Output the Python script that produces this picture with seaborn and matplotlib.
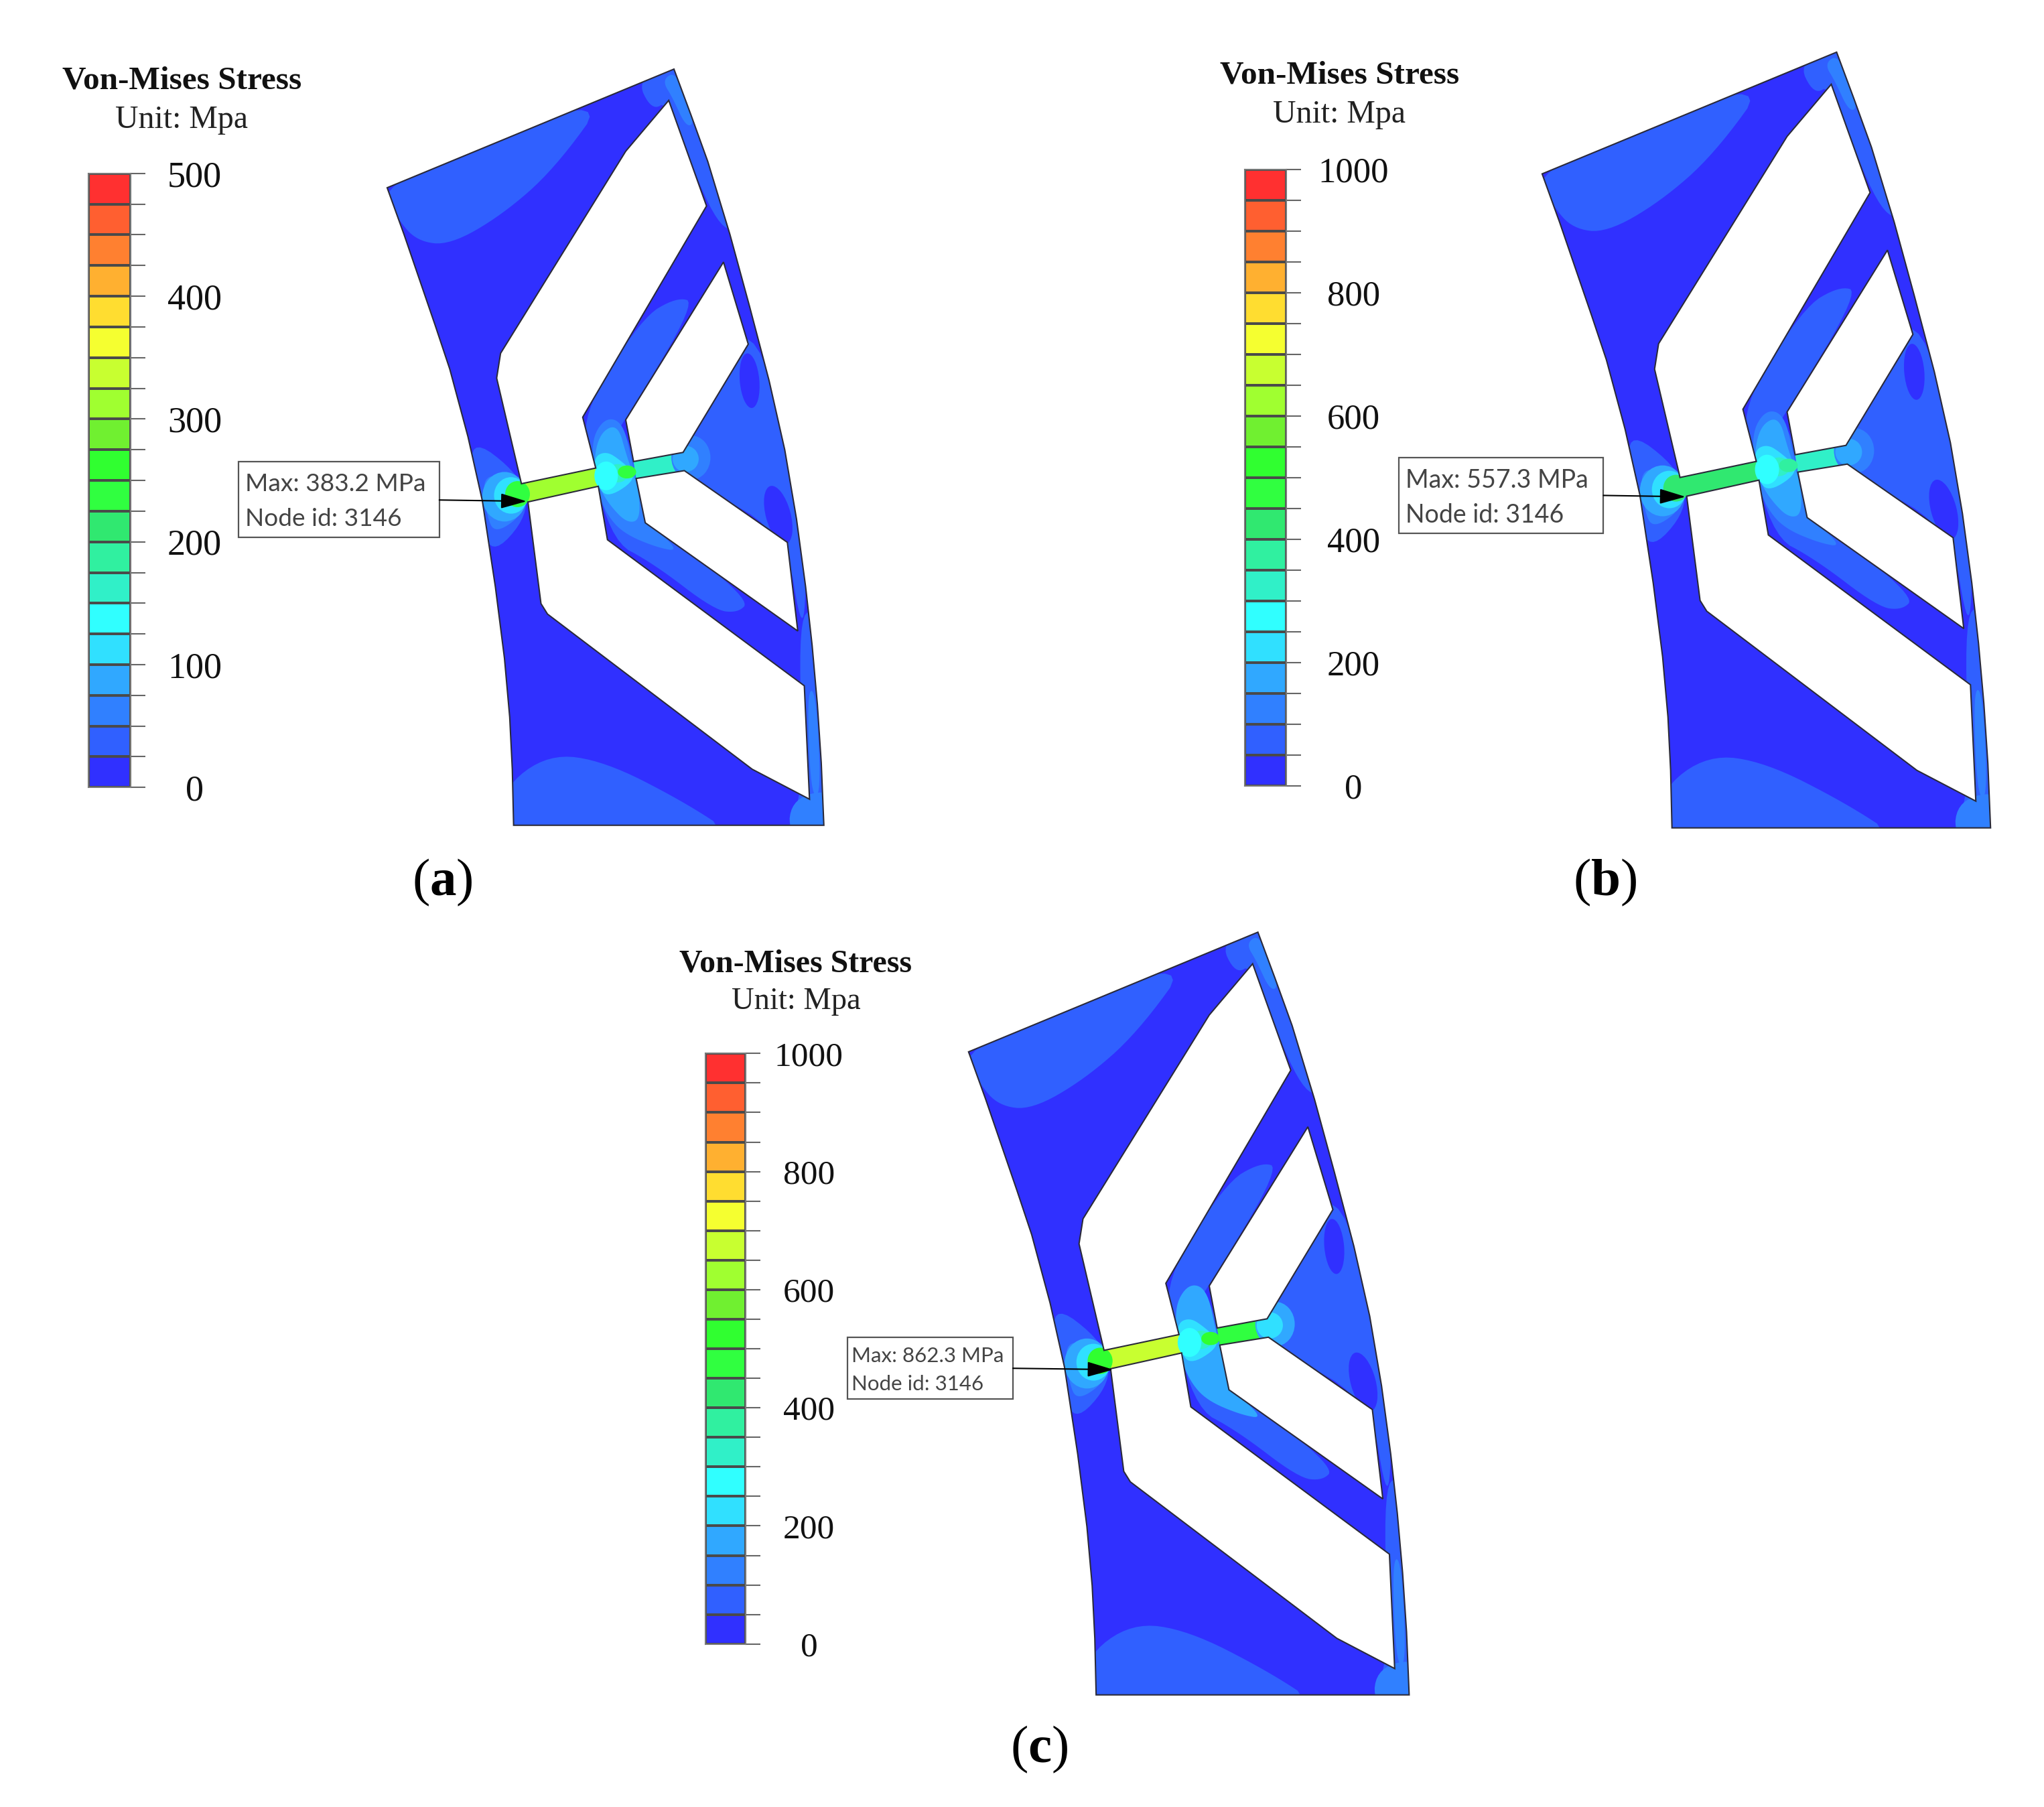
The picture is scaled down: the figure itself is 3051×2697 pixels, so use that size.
import seaborn as sns
import matplotlib.pyplot as plt
from matplotlib.colors import ListedColormap
from matplotlib.patches import Polygon, Ellipse, Rectangle
import numpy as np

sns.set_style("white")
plt.rcParams["font.family"] = ["Liberation Serif", "DejaVu Serif"]
plt.rcParams["mathtext.fontset"] = "custom"
plt.rcParams["mathtext.rm"] = "Liberation Serif"
plt.rcParams["mathtext.bf"] = "Liberation Serif:bold"

# legend bands, bottom to top
band_colors = ["#3030ff", "#3060ff", "#3080ff", "#30a8ff", "#30e0ff", "#30ffff", "#30f0c8",
               "#30f0a0", "#30e870", "#30ff40", "#30ff30", "#70f030", "#a0ff30", "#c8ff30",
               "#f5ff30", "#ffdd30", "#ffb030", "#ff8030", "#ff5f30", "#ff3030"]
levels_500 = [475, 450, 425, 400, 375, 350, 325, 300, 275, 250, 225, 200, 175, 150, 125, 100, 75, 50, 25, 0]
levels_1000 = [950, 900, 850, 800, 750, 700, 650, 600, 550, 500, 450, 400, 350, 300, 250, 200, 150, 100, 50, 0]
labels_500 = ["500", "400", "300", "200", "100", "0"]
labels_1000 = ["1000", "800", "600", "400", "200", "0"]

# rotor section outline in 1568 wide picture units
outer = [(297, 144), (517, 53), (530, 88), (543, 124), (560, 180), (575, 235), (590, 292), (602, 345),
         (611, 398), (618, 450), (623, 495), (627, 540), (630, 585), (632, 633), (394, 633),
         (393, 590), (391, 550), (387, 505), (380, 450), (370, 384), (359, 335), (345, 283),
         (334, 250), (322, 215), (310, 180)]
hole_top = [(513, 77), (542, 158), (447, 320), (457, 359), (400, 371), (381, 290), (384, 271), (480, 116)]
hole_upper = [(555, 201), (574, 264), (524, 347), (486, 354), (480, 322)]
hole_lower = [(525, 361), (604, 416), (612, 484), (495, 401), (488, 367)]
hole_bottom = [(405, 385), (459, 373), (466, 414), (617, 526), (621, 613), (577, 590), (420, 471), (415, 463)]
holes = [hole_top, hole_upper, hole_lower, hole_bottom]

# stress contour regions
region_shapes = [
    [(290, 140), (470, 68), (425, 130), (385, 165), (345, 188), (320, 185), (305, 168)],
    [(488, 60), (525, 45), (552, 125), (566, 182), (545, 165), (513, 77), (500, 85)],
    [(508, 62), (517, 55), (524, 70), (533, 95), (526, 97), (516, 75)],
    [(492, 244), (519, 228), (534, 232), (480, 322), (456, 356), (445, 320)],
    [(573, 232), (606, 345), (619, 430), (616, 492), (602, 405), (520, 368), (518, 340)],
    [(447, 319), (480, 321), (495, 399), (527, 421), (575, 461), (566, 470), (548, 468), (501, 432), (467, 414)],
    [(612, 470), (628, 470), (640, 640), (600, 640), (617, 610)],
    [(619, 530), (626, 530), (630, 610), (622, 610)],
    [(608, 612), (640, 605), (640, 640), (604, 640)],
    [(385, 605), (421, 578), (464, 584), (523, 614), (566, 642), (385, 642)],
    [(358, 333), (400, 365), (406, 395), (376, 428), (368, 390)],
    [(370, 362), (398, 370), (404, 392), (380, 410), (373, 395)],
    [(453, 339), (464, 320), (478, 324), (485, 355), (495, 399), (522, 423), (504, 420), (478, 409), (465, 394), (458, 375)],
    [(460, 332), (474, 325), (481, 351), (490, 375), (491, 399), (481, 401), (469, 389), (460, 375), (455, 356)],
    [(455, 351), (465, 346), (476, 353), (490, 366), (467, 382), (458, 373)],
]
region_bands_a = [1, 1, 2, 1, 1, 1, 1, 2, 2, 1, 1, 2, 2, 3, 4]
region_bands_b = [1, 1, 2, 1, 1, 1, 1, 2, 2, 1, 1, 2, 2, 3, 4]
region_bands_c = [1, 1, 2, 1, 1, 1, 1, 2, 2, 1, 1, 2, 3, 3, 4]

web_shapes = [
    [(400, 371), (457, 359), (461, 373), (405, 385)],
    [(486, 354), (524, 347), (526, 361), (488, 367)],
]
web_bands_a = [12, 6]
web_bands_b = [8, 6]
web_bands_c = [13, 9]

# centre x, centre y, width, height, angle
spot_shapes = [
    (575, 292, 15, 42, -5), (597, 395, 19, 46, -15),
    (530, 351, 30, 34, 0), (526, 352, 20, 20, 0),
    (387, 381, 34, 38, 0), (392, 380, 26, 28, 0), (397, 379, 19, 20, 0),
    (474, 363, 16, 14, 0), (465, 365, 18, 22, 0), (481, 362, 14, 10, 0),
]
spot_bands_a = [0, 0, 2, 3, 3, 4, 9, 6, 5, 9]
spot_bands_b = [0, 0, 2, 3, 3, 4, 8, 6, 5, 7]
spot_bands_c = [0, 0, 3, 4, 3, 4, 10, 6, 5, 10]

# panel text
max_texts = ["Max: 383.2 MPa", "Max: 557.3 MPa", "Max: 862.3 MPa"]
node_text = "Node id: 3146"
panel_names = ["a", "b", "c"]

W, H = 1568.0, 1386.0
fig = plt.figure(figsize=(30.51, 26.97), dpi=100)


def place(x0, y0, x1, y1):
    return fig.add_axes([x0 / W, 1 - y1 / H, (x1 - x0) / W, (y1 - y0) / H])


def soften(shape, rounds=3):
    # corner cutting, the contour edges in the reference are rounded
    pts = np.array(shape, dtype=float)
    for _ in range(rounds):
        nxt = np.roll(pts, -1, axis=0)
        pts = np.column_stack([0.75 * pts + 0.25 * nxt, 0.25 * pts + 0.75 * nxt]).reshape(-1, 2)
    return pts


def draw_section(x0, y0, x1, y1, region_bands, web_bands, spot_bands):
    ax = place(x0, y0, x1, y1)
    ax.set_xlim(297, 632)
    ax.set_ylim(633, 53)
    ax.axis("off")
    body = Polygon(outer, closed=True, fc=band_colors[0], ec="none")
    ax.add_patch(body)
    for shape, band in zip(region_shapes, region_bands):
        p = Polygon(soften(shape), closed=True, fc=band_colors[band], ec="none")
        ax.add_patch(p)
        p.set_clip_path(body)
    for shape, band in zip(web_shapes, web_bands):
        ax.add_patch(Polygon(shape, closed=True, fc=band_colors[band], ec="none"))
    for (cx, cy, w, h, a), band in zip(spot_shapes, spot_bands):
        p = Ellipse((cx, cy), w, h, angle=a, fc=band_colors[band], ec="none")
        ax.add_patch(p)
        p.set_clip_path(body)
    for hole in holes:
        ax.add_patch(Polygon(hole, closed=True, fc="white", ec="#2a2a3a", lw=1.5, clip_on=False))
    ax.add_patch(Polygon(outer, closed=True, fc="none", ec="#2a2a3a", lw=1.5, clip_on=False))


def draw_legend(x0, y0, x1, y1, levels, labels, top, tick_pad, size):
    ax = place(x0, y0, x1, y1)
    table = np.array(levels).reshape(-1, 1)
    sns.heatmap(table, ax=ax, cmap=ListedColormap(band_colors), vmin=0, vmax=top, cbar=False,
                linewidths=1.6, linecolor="#4a4a4a", xticklabels=False, yticklabels=False)
    tick_labels = [""] * 21
    for i, lab in enumerate(labels):
        tick_labels[i * 4] = lab
    ax.yaxis.tick_right()
    ax.set_yticks(range(21))
    ax.set_yticklabels(tick_labels, rotation=0, ha="center", fontsize=size)
    ax.tick_params(axis="y", length=16, width=1.5, color="#666666", pad=tick_pad, labelcolor="#111111")
    ax.set_ylim(20, 0)
    for s in ax.spines.values():
        s.set_visible(True)
        s.set_color("#777777")
        s.set_linewidth(1.5)


draw_section(297, 53, 632, 633, region_bands_a, web_bands_a, spot_bands_a)
draw_section(1183, 40, 1527, 635, region_bands_b, web_bands_b, spot_bands_b)
draw_section(743, 715, 1081, 1300, region_bands_c, web_bands_c, spot_bands_c)

draw_legend(68, 133, 100, 604, levels_500, labels_500, 500, 53, 39)
draw_legend(955, 130, 987, 603, levels_1000, labels_1000, 1000, 56, 38)
draw_legend(541, 808, 572, 1261, levels_1000, labels_1000, 1000, 52, 37)

# overlay for titles, call-outs and panel letters
top = fig.add_axes([0, 0, 1, 1], facecolor="none")
top.set_xlim(0, W)
top.set_ylim(H, 0)
top.axis("off")

for cx, y1, y2, s in [(139.5, 62, 92, 35.5), (1027.5, 58, 88, 35.5), (610.5, 739, 768, 34.5)]:
    top.text(cx, y1, "Von-Mises Stress", ha="center", va="center", fontweight="bold", fontsize=s, color="#111111")
    top.text(cx, y2, "Unit: Mpa", ha="center", va="center", fontsize=s - 1, color="#222222")

boxes = [(183, 354, 337, 412, 188, 26.7), (1073, 351, 1230, 409, 1078, 27), (650, 1026, 777, 1073, 653, 22.5)]
arrows = [(337, 383.5, 404, 384.5), (1230, 380, 1293, 381), (777, 1049.5, 854, 1050.5)]
for (x0, y0, x1, y1, tx, s), (ax0, ay0, ax1, ay1), m in zip(boxes, arrows, max_texts):
    top.add_patch(Rectangle((x0, y0), x1 - x0, y1 - y0, fc="white", ec="#555555", lw=1.6))
    top.text(tx, y0 + (y1 - y0) * 0.30, m, ha="left", va="center", family="Lato", fontsize=s, color="#444444")
    top.text(tx, y0 + (y1 - y0) * 0.76, node_text, ha="left", va="center", family="Lato", fontsize=s, color="#444444")
    top.annotate("", xy=(ax1, ay1), xytext=(ax0, ay0),
                 arrowprops=dict(arrowstyle="-|>,head_length=1.2,head_width=0.35", mutation_scale=20,
                                 color="black", lw=1.5, shrinkA=0, shrinkB=0))

for (cx, cy), name in zip([(339.5, 677), (1231, 677), (797, 1342)], panel_names):
    top.text(cx, cy, "($\\mathbf{%s}$)" % name, ha="center", va="center", fontsize=57, color="black")

fig.savefig("out.png", dpi=100)
